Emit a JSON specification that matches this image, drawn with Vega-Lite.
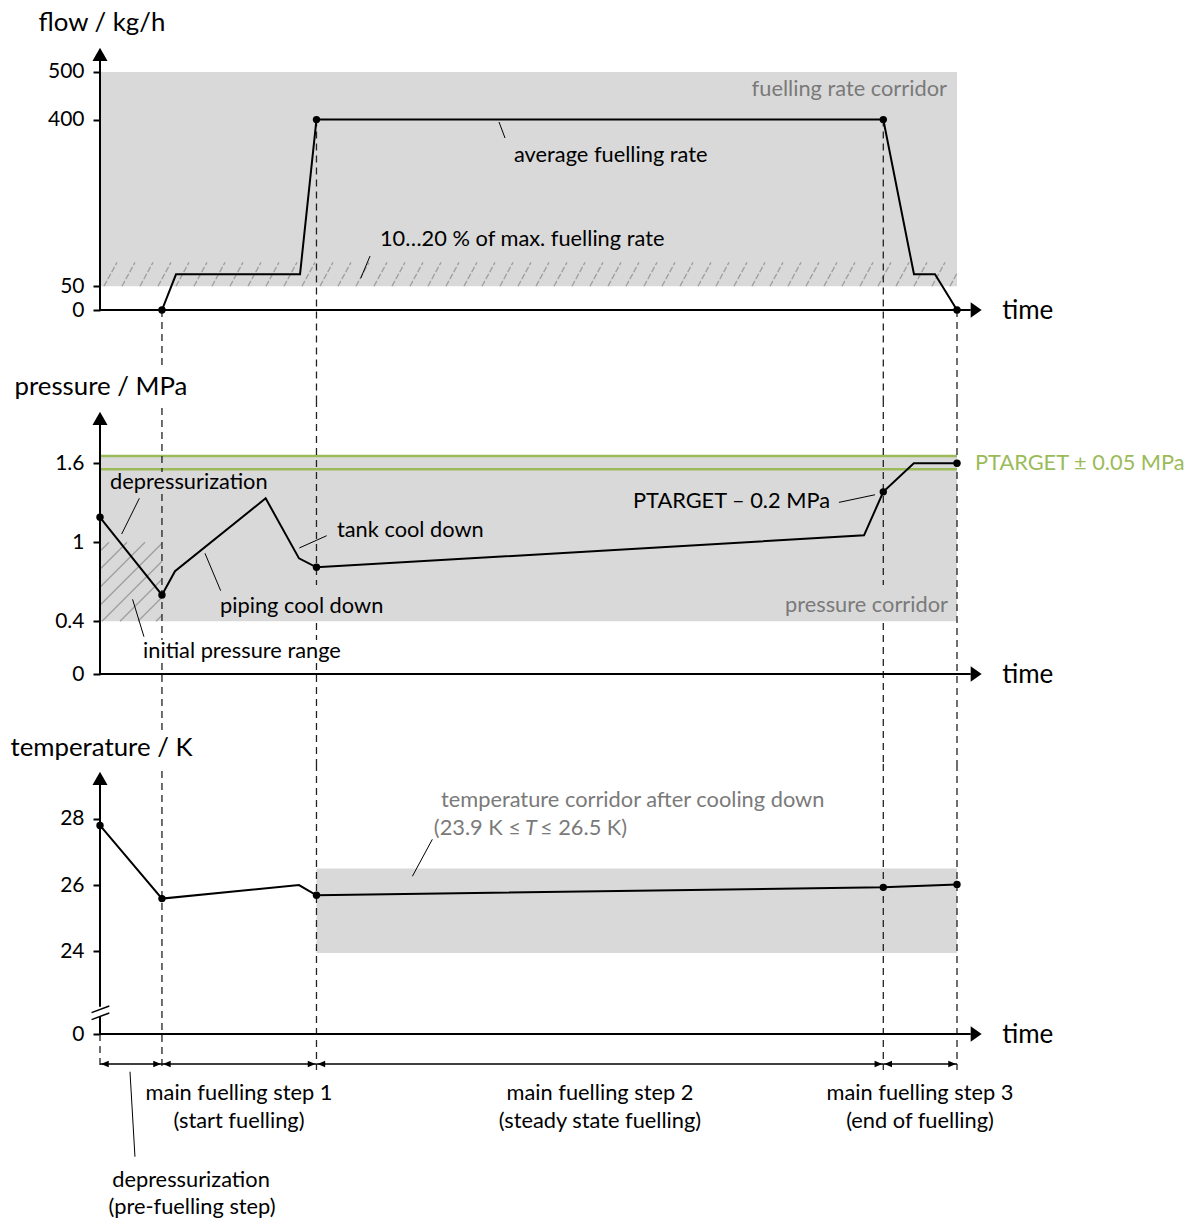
{
  "$schema": "https://vega.github.io/schema/vega-lite/v6.json",
  "padding": {"left": 10, "top": 9, "right": 5, "bottom": 5},
  "spacing": 90,
  "bounds": "flush",
  "config": {
    "view": {"stroke": null},
    "font": "Lato",
    "axis": {"domain": false, "grid": false, "tickColor": "#000", "tickWidth": 2, "tickSize": 7, "labelFont": "Lato", "labelFontSize": 21, "labelColor": "#000", "labelPadding": 9, "labelOverlap": false, "titleFont": "Lato", "titleFontWeight": "normal", "titleColor": "#000", "titleAngle": 0, "titleBaseline": "middle", "titleAlign": "left"},
    "axisY": {"titleFontSize": 25.8},
    "axisX": {"ticks": false, "labels": false, "titleFontSize": 26, "titleX": 901.7, "titleY": 0, "title": "time"}
  },
  "vconcat": [
    {
      "width": 857, "height": 270,
      "encoding": {
        "x": {"field": "t", "type": "quantitative", "scale": {"domain": [0, 100], "nice": false, "zero": false}, "axis": {"title": "time"}},
        "y": {"field": "v", "type": "quantitative", "scale": {"domain": [0, 567.2], "nice": false, "zero": false}, "axis": {"values": [0, 50, 400, 500], "format": "d", "title": "flow / kg/h", "titleX": -62, "titleY": -18}}
      },
      "layer": [
        {"data": {"values": [{"t": 0, "t2": 100, "v": 50, "v2": 500}]}, "mark": {"type": "rect", "color": "#d9d9d9"}, "encoding": {"x2": {"field": "t2"}, "y2": {"field": "v2"}}},
        {"data": {"values": [{"t": 50, "v": 75}]}, "mark": {"type": "point", "shape": "M-0.990665,0.027771L-0.960327,-0.027771M-0.948658,0.027771L-0.91832,-0.027771M-0.906651,0.027771L-0.876313,-0.027771M-0.864644,0.027771L-0.834306,-0.027771M-0.822637,0.027771L-0.792299,-0.027771M-0.78063,0.027771L-0.750292,-0.027771M-0.738623,0.027771L-0.708285,-0.027771M-0.696616,0.027771L-0.666278,-0.027771M-0.654609,0.027771L-0.624271,-0.027771M-0.612602,0.027771L-0.582264,-0.027771M-0.570595,0.027771L-0.540257,-0.027771M-0.528588,0.027771L-0.49825,-0.027771M-0.486581,0.027771L-0.456243,-0.027771M-0.444574,0.027771L-0.414236,-0.027771M-0.402567,0.027771L-0.372229,-0.027771M-0.36056,0.027771L-0.330222,-0.027771M-0.318553,0.027771L-0.288215,-0.027771M-0.276546,0.027771L-0.246208,-0.027771M-0.234539,0.027771L-0.204201,-0.027771M-0.192532,0.027771L-0.162194,-0.027771M-0.150525,0.027771L-0.120187,-0.027771M-0.108518,0.027771L-0.07818,-0.027771M-0.066511,0.027771L-0.036173,-0.027771M-0.024504,0.027771L0.005834,-0.027771M0.017503,0.027771L0.047841,-0.027771M0.05951,0.027771L0.089848,-0.027771M0.101517,0.027771L0.131855,-0.027771M0.143524,0.027771L0.173862,-0.027771M0.185531,0.027771L0.215869,-0.027771M0.227538,0.027771L0.257876,-0.027771M0.269545,0.027771L0.299883,-0.027771M0.311552,0.027771L0.34189,-0.027771M0.353559,0.027771L0.383897,-0.027771M0.395566,0.027771L0.425904,-0.027771M0.437573,0.027771L0.467911,-0.027771M0.47958,0.027771L0.509918,-0.027771M0.521587,0.027771L0.551925,-0.027771M0.563594,0.027771L0.593932,-0.027771M0.605601,0.027771L0.635939,-0.027771M0.647608,0.027771L0.677946,-0.027771M0.689615,0.027771L0.719953,-0.027771M0.731622,0.027771L0.76196,-0.027771M0.773629,0.027771L0.803967,-0.027771M0.815636,0.027771L0.845974,-0.027771M0.857643,0.027771L0.887981,-0.027771M0.89965,0.027771L0.929988,-0.027771M0.941657,0.027771L0.971995,-0.027771M0.983664,0.027771L1,-0.002137", "size": 734449, "filled": false, "stroke": "#9f9f9f", "strokeWidth": 1.3, "strokeDash": [6, 2], "opacity": 1}},
        {"data": {"values": [{"t": 7.23, "v": 0, "v2": -121.8}, {"t": 25.26, "v": 400, "v2": -189.1}, {"t": 91.4, "v": 400, "v2": -189.1}, {"t": 100, "v": 0, "v2": -189.1}]}, "mark": {"type": "rule", "color": "#222", "strokeWidth": 1.3, "strokeDash": [7, 5], "clip": false}, "encoding": {"y2": {"field": "v2"}}},
        {"data": {"values": [{"t": 0, "v": 0, "t2": 101.6, "v2": 0}, {"t": 0, "v": 0, "t2": 0, "v2": 523.1}]}, "mark": {"type": "rule", "color": "#000", "strokeWidth": 2, "clip": false}, "encoding": {"x2": {"field": "t2"}, "y2": {"field": "v2"}}},
        {"data": {"values": [{"t": 0, "v": 551.1}]}, "mark": {"type": "point", "shape": "M0,0L0.75,1.33L-0.75,1.33Z", "size": 400, "filled": true, "color": "#000", "opacity": 1, "strokeWidth": 0, "clip": false}},
        {"data": {"values": [{"t": 102.88, "v": 0}]}, "mark": {"type": "point", "shape": "M0,0L-1.1,-0.785L-1.1,0.785Z", "size": 400, "filled": true, "color": "#000", "opacity": 1, "strokeWidth": 0, "clip": false}},
        {"data": {"values": [{"t": 0, "v": 0}, {"t": 7.23, "v": 0}, {"t": 8.87, "v": 75}, {"t": 23.34, "v": 75}, {"t": 25.26, "v": 400}, {"t": 91.4, "v": 400}, {"t": 94.98, "v": 75}, {"t": 97.43, "v": 75}, {"t": 100, "v": 0}]}, "mark": {"type": "line", "color": "#000", "strokeWidth": 2}},
        {"data": {"values": [{"t": 7.23, "v": 0}, {"t": 25.26, "v": 400}, {"t": 91.4, "v": 400}, {"t": 100, "v": 0}]}, "mark": {"type": "point", "shape": "circle", "size": 55, "filled": true, "color": "#000", "opacity": 1}},
        {"data": {"values": [{"t": 46.56, "v": 395, "t2": 47.26, "v2": 361.3}, {"t": 31.51, "v": 113.4, "t2": 30.42, "v2": 66.6}]}, "mark": {"type": "rule", "color": "#000", "strokeWidth": 1}, "encoding": {"x2": {"field": "t2"}, "y2": {"field": "v2"}}},
        {"data": {"values": [{"t": 48.31, "v": 325.6, "label": "average fuelling rate", "kind": "annotation"}, {"t": 32.67, "v": 149.2, "label": "10…20 % of max. fuelling rate", "kind": "annotation"}]}, "mark": {"type": "text", "align": "left", "baseline": "middle", "fontSize": 21.8, "font": "Lato", "clip": false}, "encoding": {"text": {"field": "label"}, "color": {"field": "kind", "type": "nominal", "scale": {"domain": ["annotation", "corridor", "target"], "range": ["#000000", "#7a7a7a", "#9bbb59"]}, "legend": null}}},
        {"data": {"values": [{"t": 98.83, "v": 464.3, "label": "fuelling rate corridor", "kind": "corridor"}]}, "mark": {"type": "text", "align": "right", "baseline": "middle", "fontSize": 21.8, "font": "Lato", "clip": false}, "encoding": {"text": {"field": "label"}, "color": {"field": "kind", "type": "nominal", "scale": {"domain": ["annotation", "corridor", "target"], "range": ["#000000", "#7a7a7a", "#9bbb59"]}, "legend": null}}}
      ]
    },
    {
      "width": 857, "height": 274,
      "encoding": {
        "x": {"field": "t", "type": "quantitative", "scale": {"domain": [0, 100], "nice": false, "zero": false}, "axis": {"title": "time"}},
        "y": {"field": "v", "type": "quantitative", "scale": {"domain": [0, 2.0805], "nice": false, "zero": false}, "axis": {"values": [0, 0.4, 1, 1.6], "format": "~g", "title": "pressure / MPa", "titleX": -86, "titleY": -14}}
      },
      "layer": [
        {"data": {"values": [{"t": 0, "t2": 100, "v": 0.4, "v2": 1.655}]}, "mark": {"type": "rect", "color": "#d9d9d9"}, "encoding": {"x2": {"field": "t2"}, "y2": {"field": "v2"}}},
        {"data": {"values": [{"t": 3.617, "v": 0.7}]}, "mark": {"type": "point", "shape": "M-0.785,-0.772L-0.557,-1M-0.785,-0.316L-0.101,-1M-0.785,0.139L0.354,-1M-0.785,0.595L0.785,-0.975M-0.734,1L0.785,-0.519M-0.278,1L0.785,-0.063M0.177,1L0.785,0.392M0.633,1L0.785,0.848", "size": 6241, "filled": false, "stroke": "#9f9f9f", "strokeWidth": 1.3, "opacity": 1}},
        {"data": {"values": [{"t": 0, "t2": 100, "v": 1.555}, {"t": 0, "t2": 100, "v": 1.655}]}, "mark": {"type": "rule", "color": "#9bbb59", "strokeWidth": 2.5}, "encoding": {"x2": {"field": "t2"}}},
        {"data": {"values": [{"t": 7.23, "v": 2.0197, "v2": 1.5338}, {"t": 7.23, "v": 1.3667, "v2": 0.2582}, {"t": 7.23, "v": 0.0835, "v2": -0.448}, {"t": 25.26, "v": 2.0805, "v2": 0.6758}, {"t": 25.26, "v": 0.3872, "v2": 0.2582}, {"t": 25.26, "v": 0.0835, "v2": -0.6834}, {"t": 91.4, "v": 2.0805, "v2": 0.6758}, {"t": 91.4, "v": 0.3872, "v2": -0.6834}, {"t": 100, "v": 2.0805, "v2": -0.6834}]}, "mark": {"type": "rule", "color": "#222", "strokeWidth": 1.3, "strokeDash": [7, 5], "clip": false}, "encoding": {"y2": {"field": "v2"}}},
        {"data": {"values": [{"t": 0, "v": 0, "t2": 101.6, "v2": 0}, {"t": 0, "v": 0, "t2": 0, "v2": 1.8907}]}, "mark": {"type": "rule", "color": "#000", "strokeWidth": 2, "clip": false}, "encoding": {"x2": {"field": "t2"}, "y2": {"field": "v2"}}},
        {"data": {"values": [{"t": 0, "v": 1.9917}]}, "mark": {"type": "point", "shape": "M0,0L0.75,1.33L-0.75,1.33Z", "size": 400, "filled": true, "color": "#000", "opacity": 1, "strokeWidth": 0, "clip": false}},
        {"data": {"values": [{"t": 102.88, "v": 0}]}, "mark": {"type": "point", "shape": "M0,0L-1.1,-0.785L-1.1,0.785Z", "size": 400, "filled": true, "color": "#000", "opacity": 1, "strokeWidth": 0, "clip": false}},
        {"data": {"values": [{"t": 0, "v": 1.19}, {"t": 7.23, "v": 0.6}, {"t": 8.75, "v": 0.78}, {"t": 19.33, "v": 1.334}, {"t": 23.22, "v": 0.878}, {"t": 25.26, "v": 0.81}, {"t": 89.15, "v": 1.053}, {"t": 91.4, "v": 1.383}, {"t": 94.96, "v": 1.6}, {"t": 100, "v": 1.6}]}, "mark": {"type": "line", "color": "#000", "strokeWidth": 2}},
        {"data": {"values": [{"t": 0, "v": 1.19}, {"t": 7.23, "v": 0.6}, {"t": 25.26, "v": 0.81}, {"t": 91.4, "v": 1.383}, {"t": 100, "v": 1.6}]}, "mark": {"type": "point", "shape": "circle", "size": 55, "filled": true, "color": "#000", "opacity": 1}},
        {"data": {"values": [{"t": 4.59, "v": 1.334, "t2": 2.53, "v2": 1.063}, {"t": 26.45, "v": 1.05, "t2": 23.26, "v2": 0.957}, {"t": 14.08, "v": 0.6325, "t2": 12.25, "v2": 0.9165}, {"t": 5.13, "v": 0.283, "t2": 3.8, "v2": 0.567}, {"t": 86.22, "v": 1.303, "t2": 90.43, "v2": 1.361}]}, "mark": {"type": "rule", "color": "#000", "strokeWidth": 1}, "encoding": {"x2": {"field": "t2"}, "y2": {"field": "v2"}}},
        {"data": {"values": [{"t": 1.17, "v": 1.458, "label": "depressurization", "kind": "annotation"}, {"t": 27.65, "v": 1.093, "label": "tank cool down", "kind": "annotation"}, {"t": 14.0, "v": 0.516, "label": "piping cool down", "kind": "annotation"}, {"t": 5.02, "v": 0.1746, "label": "initial pressure range", "kind": "annotation"}, {"t": 102.1, "v": 1.602, "label": "PTARGET ± 0.05 MPa", "kind": "target"}]}, "mark": {"type": "text", "align": "left", "baseline": "middle", "fontSize": 21.8, "font": "Lato", "clip": false}, "encoding": {"text": {"field": "label"}, "color": {"field": "kind", "type": "nominal", "scale": {"domain": ["annotation", "corridor", "target"], "range": ["#000000", "#7a7a7a", "#9bbb59"]}, "legend": null}}},
        {"data": {"values": [{"t": 85.18, "v": 1.3136, "label": "PTARGET – 0.2 MPa", "kind": "annotation"}, {"t": 98.95, "v": 0.524, "label": "pressure corridor", "kind": "corridor"}]}, "mark": {"type": "text", "align": "right", "baseline": "middle", "fontSize": 21.8, "font": "Lato", "clip": false}, "encoding": {"text": {"field": "label"}, "color": {"field": "kind", "type": "nominal", "scale": {"domain": ["annotation", "corridor", "target"], "range": ["#000000", "#7a7a7a", "#9bbb59"]}, "legend": null}}}
      ]
    },
    {
      "width": 857, "height": 270,
      "encoding": {
        "x": {"field": "t", "type": "quantitative", "scale": {"domain": [0, 100], "nice": false, "zero": false}, "axis": {"title": "time"}},
        "y": {"field": "v", "type": "quantitative", "scale": {"domain": [21.5, 29.657], "nice": false, "zero": false}, "axis": {"values": [21.5, 24, 26, 28], "labelExpr": "datum.value < 23 ? '0' : datum.label", "title": "temperature / K", "titleX": -90, "titleY": -17}}
      },
      "layer": [
        {"data": {"values": [{"t": 25.26, "t2": 100, "v": 23.95, "v2": 26.5}]}, "mark": {"type": "rect", "color": "#d9d9d9"}, "encoding": {"x2": {"field": "t2"}, "y2": {"field": "v2"}}},
        {"data": {"values": [{"t": 7.23, "v": 29.446, "v2": 20.412}, {"t": 25.26, "v": 29.657, "v2": 20.412}, {"t": 91.4, "v": 29.657, "v2": 20.412}, {"t": 100, "v": 29.657, "v2": 20.412}, {"t": 0, "v": 21.5, "v2": 20.412}]}, "mark": {"type": "rule", "color": "#222", "strokeWidth": 1.3, "strokeDash": [7, 5], "clip": false}, "encoding": {"y2": {"field": "v2"}}},
        {"data": {"values": [{"t": 0, "v": 21.5, "t2": 101.6, "v2": 21.5}, {"t": 0, "v": 21.5, "t2": 0, "v2": 22.023}, {"t": 0, "v": 22.325, "t2": 0, "v2": 29.032}]}, "mark": {"type": "rule", "color": "#000", "strokeWidth": 2, "clip": false}, "encoding": {"x2": {"field": "t2"}, "y2": {"field": "v2"}}},
        {"data": {"values": [{"t": -0.98, "v": 22.145, "t2": 1.085, "v2": 22.347}, {"t": -0.98, "v": 21.934, "t2": 1.085, "v2": 22.136}]}, "mark": {"type": "rule", "color": "#000", "strokeWidth": 1.5, "clip": false}, "encoding": {"x2": {"field": "t2"}, "y2": {"field": "v2"}}},
        {"data": {"values": [{"t": 0, "v": 29.425}]}, "mark": {"type": "point", "shape": "M0,0L0.75,1.33L-0.75,1.33Z", "size": 400, "filled": true, "color": "#000", "opacity": 1, "strokeWidth": 0, "clip": false}},
        {"data": {"values": [{"t": 102.88, "v": 21.5}]}, "mark": {"type": "point", "shape": "M0,0L-1.1,-0.785L-1.1,0.785Z", "size": 400, "filled": true, "color": "#000", "opacity": 1, "strokeWidth": 0, "clip": false}},
        {"data": {"values": [{"t": 0, "v": 27.8}, {"t": 7.23, "v": 25.59}, {"t": 23.22, "v": 26.0}, {"t": 25.26, "v": 25.69}, {"t": 91.4, "v": 25.93}, {"t": 100, "v": 26.02}]}, "mark": {"type": "line", "color": "#000", "strokeWidth": 2}},
        {"data": {"values": [{"t": 0, "v": 27.8}, {"t": 7.23, "v": 25.59}, {"t": 25.26, "v": 25.69}, {"t": 91.4, "v": 25.93}, {"t": 100, "v": 26.02}]}, "mark": {"type": "point", "shape": "circle", "size": 55, "filled": true, "color": "#000", "opacity": 1}},
        {"data": {"values": [{"t": 0, "t2": 7.23, "v": 20.594}, {"t": 7.23, "t2": 25.26, "v": 20.594}, {"t": 25.26, "t2": 91.4, "v": 20.594}, {"t": 91.4, "t2": 100, "v": 20.594}]}, "mark": {"type": "rule", "color": "#000", "strokeWidth": 1.3, "clip": false}, "encoding": {"x2": {"field": "t2"}}},
        {"data": {"values": [{"t": 0.12, "v": 20.594}, {"t": 7.35, "v": 20.594}, {"t": 25.38, "v": 20.594}, {"t": 91.52, "v": 20.594}]}, "mark": {"type": "point", "shape": "M0,0L0.77,-0.335L0.77,0.335Z", "size": 400, "filled": true, "color": "#000", "opacity": 1, "strokeWidth": 0, "clip": false}},
        {"data": {"values": [{"t": 7.11, "v": 20.594}, {"t": 25.14, "v": 20.594}, {"t": 91.28, "v": 20.594}, {"t": 99.88, "v": 20.594}]}, "mark": {"type": "point", "shape": "M0,0L-0.77,-0.335L-0.77,0.335Z", "size": 400, "filled": true, "color": "#000", "opacity": 1, "strokeWidth": 0, "clip": false}},
        {"data": {"values": [{"t": 38.78, "v": 27.382, "t2": 36.45, "v2": 26.264}, {"t": 3.5, "v": 20.361, "t2": 4.08, "v2": 17.793}]}, "mark": {"type": "rule", "color": "#000", "strokeWidth": 1, "clip": false}, "encoding": {"x2": {"field": "t2"}, "y2": {"field": "v2"}}},
        {"data": {"values": [{"t": 16.22, "v": 19.718, "label": "main fuelling step 1", "kind": "annotation"}, {"t": 16.22, "v": 18.872, "label": "(start fuelling)", "kind": "annotation"}, {"t": 58.34, "v": 19.718, "label": "main fuelling step 2", "kind": "annotation"}, {"t": 58.34, "v": 18.872, "label": "(steady state fuelling)", "kind": "annotation"}, {"t": 95.68, "v": 19.718, "label": "main fuelling step 3", "kind": "annotation"}, {"t": 95.68, "v": 18.872, "label": "(end of fuelling)", "kind": "annotation"}, {"t": 10.62, "v": 17.089, "label": "depressurization", "kind": "annotation"}, {"t": 10.74, "v": 16.273, "label": "(pre-fuelling step)", "kind": "annotation"}]}, "mark": {"type": "text", "align": "center", "baseline": "middle", "fontSize": 21.8, "font": "Lato", "clip": false}, "encoding": {"text": {"field": "label"}, "color": {"field": "kind", "type": "nominal", "scale": {"domain": ["annotation", "corridor", "target"], "range": ["#000000", "#7a7a7a", "#9bbb59"]}, "legend": null}}},
        {"data": {"values": [{"t": 39.79, "v": 28.569, "label": "temperature corridor after cooling down", "kind": "corridor"}, {"t": 51.34, "v": 27.724, "label": "≤ 26.5 K)", "kind": "corridor"}]}, "mark": {"type": "text", "align": "left", "baseline": "middle", "fontSize": 21.8, "font": "Lato", "clip": false}, "encoding": {"text": {"field": "label"}, "color": {"field": "kind", "type": "nominal", "scale": {"domain": ["annotation", "corridor", "target"], "range": ["#000000", "#7a7a7a", "#9bbb59"]}, "legend": null}}},
        {"data": {"values": [{"t": 49.12, "v": 27.724, "label": "(23.9 K ≤", "kind": "corridor"}]}, "mark": {"type": "text", "align": "right", "baseline": "middle", "fontSize": 21.8, "font": "Lato", "clip": false}, "encoding": {"text": {"field": "label"}, "color": {"field": "kind", "type": "nominal", "scale": {"domain": ["annotation", "corridor", "target"], "range": ["#000000", "#7a7a7a", "#9bbb59"]}, "legend": null}}},
        {"data": {"values": [{"t": 50.29, "v": 27.724, "label": "T", "kind": "corridor"}]}, "mark": {"type": "text", "align": "center", "baseline": "middle", "fontSize": 21.8, "font": "Lato", "fontStyle": "italic", "clip": false}, "encoding": {"text": {"field": "label"}, "color": {"field": "kind", "type": "nominal", "scale": {"domain": ["annotation", "corridor", "target"], "range": ["#000000", "#7a7a7a", "#9bbb59"]}, "legend": null}}}
      ]
    }
  ]
}
